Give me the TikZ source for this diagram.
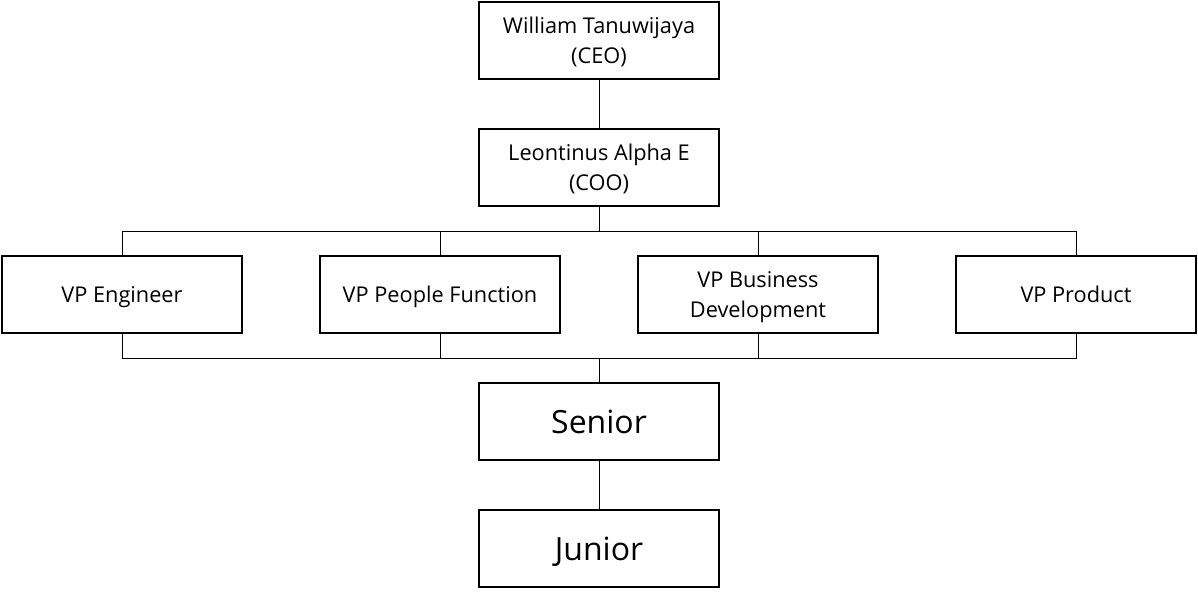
\documentclass[tikz,border=0pt]{standalone}
\usepackage{fontspec}
\setmainfont{Open Sans}
\usetikzlibrary{positioning}

\begin{document}
\begin{tikzpicture}[
    x=0.75pt, y=-0.75pt,
    every node/.style={font=\fontsize{16.3}{22.5}\selectfont},
    box/.style={draw, line width=1.5pt, fill=white, minimum width=180pt, minimum height=57.75pt, align=center, inner sep=0pt, text depth=0pt},
    bigbox/.style={box, font=\fontsize{24}{28}\selectfont},
    conn/.style={line width=0.75pt}
]
\useasboundingbox (0,0) rectangle (1198,594);

\node[box] (ceo) at (599,40) {William Tanuwijaya\\(CEO)};
\node[box] (coo) at (599,167.5) {Leontinus Alpha E\\(COO)};

\node[box] (vpeng) at (122,294.5) {VP Engineer};
\node[box] (vppeople) at (440,294.5) {VP People Function};
\node[box] (vpbiz) at (758,294.5) {VP Business\\Development};
\node[box] (vpprod) at (1076,294.5) {VP Product};

\node[bigbox] (senior) at (599,421.5) {Senior};
\node[bigbox] (junior) at (599,548.5) {Junior};

\coordinate (topbus) at (599,231);
\coordinate (botbus) at (599,358);

\draw[conn] (ceo.south) -- (coo.north);
\draw[conn] (coo.south) -- (topbus);
\foreach \vp in {vpeng, vppeople, vpbiz, vpprod} {
  \draw[conn] (\vp.north) |- (topbus);
  \draw[conn] (\vp.south) |- (botbus);
}
\draw[conn] (botbus) -- (senior.north);
\draw[conn] (senior.south) -- (junior.north);
\end{tikzpicture}
\end{document}
